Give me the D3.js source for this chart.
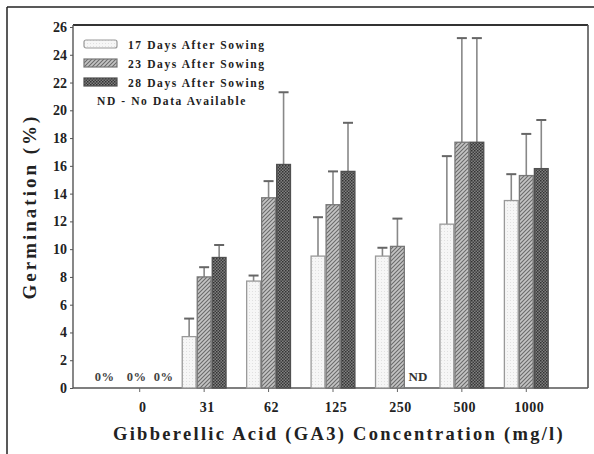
<!DOCTYPE html>
<html>
<head>
<meta charset="utf-8">
<script src="https://cdn.jsdelivr.net/npm/d3@7"></script>
<style>
  body { margin: 0; background: #fff; }
  text { font-family: "Liberation Serif", "Times New Roman", serif; font-weight: bold; fill: #222; }
  .axis path, .axis line { stroke: #555; }
  .axis text { font-size: 14px; font-family: "Liberation Serif", serif; font-weight: bold; fill: #222; }
</style>
</head>
<body>
<div id="chart"></div>
<script>
// data
const concentrations = ['0', '31', '62', '125', '250', '500', '1000'];
const seriesNames = ['17 Days After Sowing', '23 Days After Sowing', '28 Days After Sowing'];
const day17 = [0, 3.7, 7.7, 9.5, 9.5, 11.8, 13.5];
const day17Err = [0, 5.0, 8.1, 12.3, 10.1, 16.7, 15.4];
const day23 = [0, 8.0, 13.7, 13.2, 10.2, 17.7, 15.3];
const day23Err = [0, 8.7, 14.9, 15.6, 12.2, 25.2, 18.3];
const day28 = [0, 9.4, 16.1, 15.6, null, 17.7, 15.8];
const day28Err = [0, 10.3, 21.3, 19.1, null, 25.2, 19.3];
const yTicks = d3.range(0, 27, 2);

function drawChart() {
    const W = 594, H = 454;
    const plot = {left: 73, right: 588, top: 25, bottom: 388};

    const svg = d3.select('#chart').append('svg')
        .attr('width', W)
        .attr('height', H);

    // fill patterns for the three series
    const defs = svg.append('defs');
    const p1 = defs.append('pattern').attr('id', 'pat17')
        .attr('width', 3).attr('height', 3).attr('patternUnits', 'userSpaceOnUse');
    p1.append('rect').attr('width', 3).attr('height', 3).attr('fill', '#f6f6f6');
    p1.append('rect').attr('width', 1).attr('height', 1).attr('fill', '#e0e0e0');

    const p2 = defs.append('pattern').attr('id', 'pat23')
        .attr('width', 4).attr('height', 4).attr('patternUnits', 'userSpaceOnUse');
    p2.append('rect').attr('width', 4).attr('height', 4).attr('fill', '#c4c4c4');
    p2.append('path').attr('d', 'M-1,1 l2,-2 M0,4 l4,-4 M3,5 l2,-2')
        .attr('stroke', '#6a6a6a').attr('stroke-width', 1.1);

    const p3 = defs.append('pattern').attr('id', 'pat28')
        .attr('width', 3).attr('height', 3).attr('patternUnits', 'userSpaceOnUse');
    p3.append('rect').attr('width', 3).attr('height', 3).attr('fill', '#808080');
    p3.append('rect').attr('width', 1.5).attr('height', 1.5).attr('fill', '#333');
    p3.append('rect').attr('x', 1.5).attr('y', 1.5).attr('width', 1.5).attr('height', 1.5).attr('fill', '#3c3c3c');

    const fills = ['url(#pat17)', 'url(#pat23)', 'url(#pat28)'];
    const strokes = ['#999', '#777', '#505050'];

    // outer picture frame (top and left only)
    svg.append('line').attr('x1', 7).attr('x2', W).attr('y1', 7).attr('y2', 7)
        .attr('stroke', '#222').attr('stroke-width', 1.5);
    svg.append('line').attr('x1', 7).attr('x2', 7).attr('y1', 7).attr('y2', H)
        .attr('stroke', '#222').attr('stroke-width', 1.5);

    // scales
    const xScale = d3.scaleBand()
        .domain(concentrations)
        .range([107.5, 558.5]);
    const xSub = d3.scaleBand()
        .domain(d3.range(3))
        .range([0, xScale.bandwidth() * 0.68])
        .paddingInner(0.08);
    const groupOffset = (xScale.bandwidth() - xSub.range()[1]) / 2;
    const yScale = d3.scaleLinear()
        .domain([0, 26])
        .range([plot.bottom, 27]);

    // plot frame: top and right
    svg.append('line').attr('x1', plot.left).attr('x2', plot.right)
        .attr('y1', plot.top).attr('y2', plot.top)
        .attr('stroke', '#333').attr('stroke-width', 2.2);
    svg.append('line').attr('x1', plot.right).attr('x2', plot.right)
        .attr('y1', plot.top).attr('y2', plot.bottom)
        .attr('stroke', '#555').attr('stroke-width', 1.6);

    // y axis
    const yAxis = svg.append('g')
        .attr('class', 'axis')
        .attr('transform', `translate(${plot.left}, 0)`)
        .call(d3.axisLeft(yScale).tickValues(yTicks).tickSize(3).tickSizeOuter(0).tickPadding(3));
    yAxis.select('.domain').attr('d', `M0,${plot.top}V${plot.bottom}`).attr('stroke-width', 1.4);

    // x axis line
    svg.append('line').attr('x1', plot.left).attr('x2', plot.right)
        .attr('y1', plot.bottom).attr('y2', plot.bottom)
        .attr('stroke', '#555').attr('stroke-width', 1.6);
    // x ticks at the middle bar of each group
    svg.selectAll('.xtick')
        .data(concentrations)
        .join('line')
        .attr('class', 'xtick')
        .attr('x1', d => xScale(d) + groupOffset + xSub(1) + xSub.bandwidth() / 2)
        .attr('x2', d => xScale(d) + groupOffset + xSub(1) + xSub.bandwidth() / 2)
        .attr('y1', plot.bottom)
        .attr('y2', plot.bottom + 4)
        .attr('stroke', '#666');
    svg.selectAll('.xlabel')
        .data(concentrations)
        .join('text')
        .attr('class', 'xlabel')
        .attr('x', d => xScale(d) + xScale.bandwidth() / 2 + 3)
        .attr('y', 412)
        .attr('text-anchor', 'middle')
        .style('font-size', '14px')
        .style('letter-spacing', '0.5px')
        .text(d => d);

    // bars and error bars
    const series = [
        {vals: day17, errs: day17Err},
        {vals: day23, errs: day23Err},
        {vals: day28, errs: day28Err}
    ];
    series.forEach((s, si) => {
        const rows = concentrations.map((c, i) => ({c, v: s.vals[i], e: s.errs[i]}))
            .filter(d => d.v != null && d.v > 0);
        const g = svg.append('g');
        const bx = d => xScale(d.c) + groupOffset + xSub(si);
        const cx = d => bx(d) + xSub.bandwidth() / 2;

        g.selectAll('.err')
            .data(rows)
            .join('line')
            .attr('x1', cx).attr('x2', cx)
            .attr('y1', d => yScale(d.v))
            .attr('y2', d => yScale(d.e))
            .attr('stroke', '#888').attr('stroke-width', 1.6);
        g.selectAll('.cap')
            .data(rows)
            .join('line')
            .attr('x1', d => cx(d) - 5).attr('x2', d => cx(d) + 5)
            .attr('y1', d => yScale(d.e))
            .attr('y2', d => yScale(d.e))
            .attr('stroke', '#666').attr('stroke-width', 2);
        g.selectAll('rect')
            .data(rows)
            .join('rect')
            .attr('x', bx)
            .attr('y', d => yScale(d.v))
            .attr('width', xSub.bandwidth())
            .attr('height', d => yScale(0) - yScale(d.v))
            .attr('fill', fills[si])
            .attr('stroke', strokes[si])
            .attr('stroke-width', 1.3);
    });

    // annotations: 0% at concentration 0, ND at 250 / 28 days
    const zeroDx = [-35, -3, 24];
    svg.selectAll('.zero')
        .data(zeroDx)
        .join('text')
        .attr('class', 'zero')
        .attr('x', d => xScale('0') + xScale.bandwidth() / 2 + d)
        .attr('y', 381)
        .attr('text-anchor', 'middle')
        .style('font-size', '12.5px')
        .style('fill', '#444')
        .style('letter-spacing', '0.5px')
        .text('0%');
    svg.append('text')
        .attr('x', xScale('250') + groupOffset + xSub(2) + 3)
        .attr('y', 381)
        .style('font-size', '13px')
        .style('fill', '#333')
        .text('ND');

    // legend
    const legend = svg.append('g').attr('transform', 'translate(84, 40)');
    seriesNames.forEach((name, i) => {
        const row = legend.append('g').attr('transform', `translate(0, ${i * 19})`);
        row.append('rect')
            .attr('width', 33).attr('height', 8)
            .attr('rx', i === 0 ? 2 : 0)
            .attr('fill', fills[i])
            .attr('stroke', strokes[i]).attr('stroke-width', 1.2);
        row.append('text')
            .attr('x', 44).attr('y', 8.5)
            .style('font-size', '11.5px')
            .style('letter-spacing', '1.6px')
            .text(name);
    });
    legend.append('text')
        .attr('x', 13).attr('y', 65)
        .style('font-size', '11.5px')
        .style('letter-spacing', '1.6px')
        .text('ND - No Data Available');

    // axis titles
    svg.append('text')
        .attr('transform', `translate(36, ${(plot.top + plot.bottom) / 2}) rotate(-90)`)
        .attr('text-anchor', 'middle')
        .style('font-size', '19px')
        .style('letter-spacing', '3px')
        .text('Germination (%)');
    svg.append('text')
        .attr('x', 339)
        .attr('y', 440)
        .attr('text-anchor', 'middle')
        .style('font-size', '18.5px')
        .style('letter-spacing', '2.3px')
        .text('Gibberellic Acid (GA3) Concentration (mg/l)');
}

drawChart();
</script>
</body>
</html>
